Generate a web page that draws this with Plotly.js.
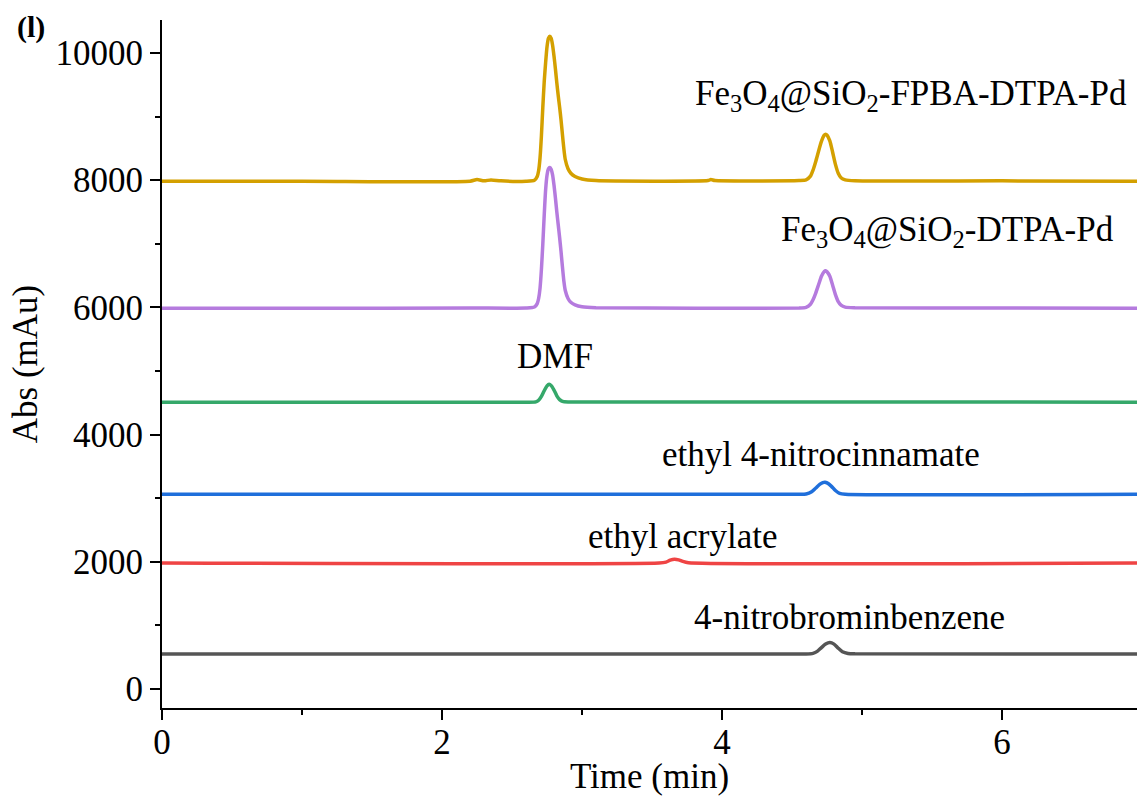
<!DOCTYPE html>
<html>
<head>
<meta charset="utf-8">
<script src="https://cdn.plot.ly/plotly-3.0.1.min.js"></script>
<style>
  html, body { margin: 0; padding: 0; background: #fff; }
  #chart { width: 1137px; height: 796px; }
</style>
</head>
<body>
<div id="chart"></div>
<script>
// HPLC chromatograms, stacked with vertical offsets (Abs in mAu vs retention time in min)

// Fe3O4@SiO2-FPBA-DTPA-Pd
const fpbaTime = [0, 1.0, 2.2, 2.25, 2.3, 2.35, 2.42, 2.6, 2.66, 2.68, 2.69, 2.70, 2.71, 2.72, 2.73, 2.74, 2.75, 2.76, 2.77, 2.78, 2.79, 2.80, 2.81, 2.82, 2.83, 2.84, 2.85, 2.86, 2.87, 2.88, 2.90, 2.92, 2.95, 3.00, 3.10, 3.90, 3.92, 3.95, 4.55, 4.60, 4.63, 4.65, 4.67, 4.69, 4.71, 4.73, 4.74, 4.75, 4.77, 4.79, 4.81, 4.83, 4.85, 4.88, 4.95, 6.0, 7.0];
const fpbaAbs  = [7985, 7985, 7985, 8010, 7990, 8005, 7990, 7985, 8000, 8060, 8150, 8350, 8700, 9150, 9550, 9850, 10100, 10230, 10265, 10230, 10120, 9950, 9750, 9530, 9330, 9150, 8950, 8720, 8500, 8330, 8180, 8110, 8060, 8020, 7995, 7995, 8010, 7995, 7995, 8005, 8060, 8160, 8300, 8460, 8610, 8710, 8725, 8710, 8620, 8440, 8250, 8110, 8040, 8005, 7990, 7990, 7985];

// Fe3O4@SiO2-DTPA-Pd
const dtpaTime = [0, 1.0, 2.2, 2.6, 2.66, 2.68, 2.69, 2.70, 2.71, 2.72, 2.73, 2.74, 2.75, 2.76, 2.77, 2.78, 2.79, 2.80, 2.81, 2.82, 2.83, 2.84, 2.85, 2.86, 2.87, 2.88, 2.90, 2.92, 2.95, 3.00, 3.10, 4.55, 4.60, 4.63, 4.65, 4.67, 4.69, 4.71, 4.73, 4.74, 4.75, 4.77, 4.79, 4.81, 4.83, 4.85, 4.88, 4.95, 6.0, 7.0];
const dtpaAbs  = [5985, 5985, 5990, 5990, 6005, 6060, 6140, 6300, 6600, 7000, 7450, 7850, 8080, 8180, 8200, 8170, 8080, 7920, 7720, 7500, 7300, 7100, 6880, 6640, 6420, 6270, 6140, 6080, 6040, 6010, 5995, 5990, 6000, 6045, 6120, 6230, 6360, 6490, 6565, 6575, 6560, 6490, 6350, 6200, 6090, 6035, 6005, 5995, 5990, 5985];

// DMF
const dmfTime = [0, 2.60, 2.67, 2.69, 2.71, 2.73, 2.75, 2.765, 2.78, 2.80, 2.82, 2.84, 2.86, 2.90, 7.0];
const dmfAbs  = [4510, 4510, 4515, 4540, 4600, 4690, 4765, 4790, 4770, 4700, 4610, 4550, 4522, 4512, 4510];

// ethyl 4-nitrocinnamate
const cinnTime = [0, 4.55, 4.60, 4.64, 4.67, 4.70, 4.72, 4.735, 4.75, 4.78, 4.81, 4.84, 4.88, 7.0];
const cinnAbs  = [3062, 3060, 3065, 3100, 3160, 3220, 3245, 3250, 3240, 3190, 3120, 3075, 3062, 3060];

// ethyl acrylate
const acrTime = [0, 3.55, 3.60, 3.63, 3.66, 3.69, 3.72, 3.76, 7.0];
const acrAbs  = [1980, 1980, 1995, 2025, 2040, 2030, 2005, 1985, 1980];

// 4-nitrobrominbenzene
const nbbTime = [0, 4.60, 4.65, 4.68, 4.71, 4.74, 4.77, 4.80, 4.83, 4.86, 4.90, 4.95, 7.0];
const nbbAbs  = [550, 550, 560, 590, 650, 705, 730, 705, 640, 585, 558, 552, 550];

const seriesColors = ['#D4A000', '#B57BDE', '#35A86A', '#1F6FDB', '#EF4444', '#555555'];

const labelText = [
  'Fe<sub>3</sub>O<sub>4</sub>@SiO<sub>2</sub>-FPBA-DTPA-Pd',
  'Fe<sub>3</sub>O<sub>4</sub>@SiO<sub>2</sub>-DTPA-Pd',
  'DMF',
  'ethyl 4-nitrocinnamate',
  'ethyl acrylate',
  '4-nitrobrominbenzene'
];
const labelTime = [5.35, 5.61, 2.81, 4.71, 3.72, 4.91];
const labelAbs  = [9330, 7200, 5230, 3680, 2390, 1120];

const xTicks = [0, 2, 4, 6];
const yTicks = [0, 2000, 4000, 6000, 8000, 10000];

const series = [
  [fpbaTime, fpbaAbs],
  [dtpaTime, dtpaAbs],
  [dmfTime, dmfAbs],
  [cinnTime, cinnAbs],
  [acrTime, acrAbs],
  [nbbTime, nbbAbs]
];

const traces = series.map((s, i) => ({
  x: s[0],
  y: s[1],
  type: 'scatter',
  mode: 'lines',
  line: { color: seriesColors[i], width: 3.5, shape: 'spline', smoothing: 0.6 },
  hoverinfo: 'x+y',
  showlegend: false
}));

const serif = 'Liberation Serif, Times New Roman, serif';

const annotations = labelText.map((t, i) => ({
  x: labelTime[i],
  y: labelAbs[i],
  xref: 'x',
  yref: 'y',
  text: t,
  showarrow: false,
  xanchor: 'center',
  yanchor: 'middle',
  font: { family: serif, size: 35, color: '#000' }
}));

// panel letter in the top-left corner
annotations.push({
  x: -0.151,
  y: 0.99,
  xref: 'paper',
  yref: 'paper',
  text: '<b>(l)</b>',
  showarrow: false,
  xanchor: 'left',
  yanchor: 'middle',
  font: { family: serif, size: 30, color: '#000' }
});

const layout = {
  width: 1137,
  height: 796,
  margin: { l: 162, r: 0, t: 20, b: 88 },
  paper_bgcolor: '#fff',
  plot_bgcolor: '#fff',
  font: { family: serif, size: 35, color: '#000' },
  xaxis: {
    range: [0, 6.964],
    tickvals: xTicks,
    ticktext: xTicks.map(String),
    ticks: 'outside',
    ticklen: 10,
    tickwidth: 2,
    tickcolor: '#000',
    ticklabelstandoff: -8,
    minor: { dtick: 1, ticks: 'outside', ticklen: 5, tickwidth: 2, tickcolor: '#000' },
    showline: true,
    linewidth: 2,
    linecolor: '#000',
    showgrid: false,
    zeroline: false,
    tickfont: { family: serif, size: 35 },
    title: { text: 'Time (min)', font: { family: serif, size: 35 }, standoff: 5 }
  },
  yaxis: {
    range: [-300, 10520],
    tickvals: yTicks,
    ticktext: yTicks.map(String),
    ticks: 'outside',
    ticklen: 10,
    tickwidth: 2,
    tickcolor: '#000',
    minor: { dtick: 1000, ticks: 'outside', ticklen: 5, tickwidth: 2, tickcolor: '#000' },
    showline: true,
    linewidth: 2,
    linecolor: '#000',
    showgrid: false,
    zeroline: false,
    tickfont: { family: serif, size: 35 },
    title: { text: 'Abs (mAu)', font: { family: serif, size: 35 }, standoff: 7 }
  },
  annotations: annotations
};

Plotly.newPlot('chart', traces, layout, { displayModeBar: false });
</script>
</body>
</html>
